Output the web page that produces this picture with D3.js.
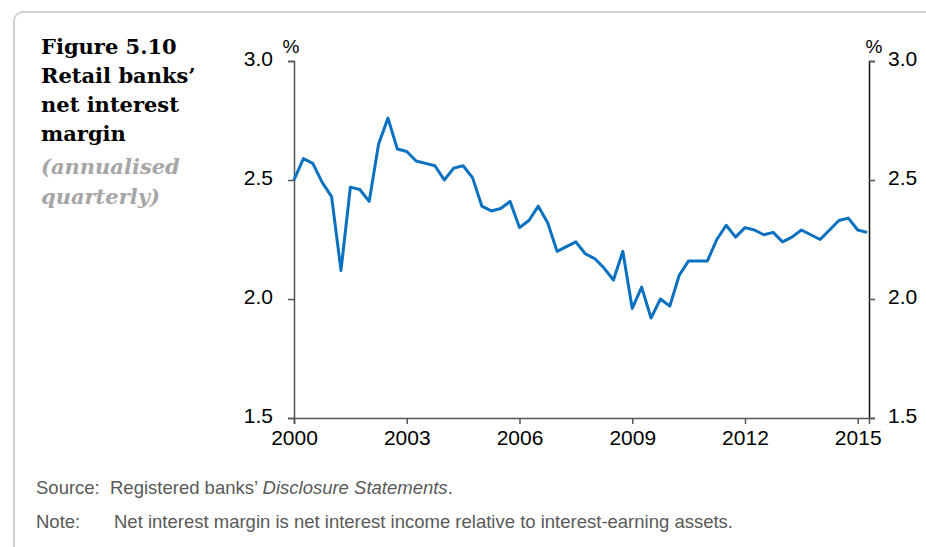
<!DOCTYPE html>
<html>
<head>
<meta charset="utf-8">
<script src="https://cdn.jsdelivr.net/npm/d3@7"></script>
<style>
  body { margin: 0; background: #fff; }
  svg { display: block; }
</style>
</head>
<body>
<svg id="chart" width="926" height="547"></svg>
<script>
// quarterly net interest margin, % (2000 Q1 onward)
var nim = [
  2.50, 2.59, 2.57, 2.49, 2.43, 2.12, 2.47, 2.46, 2.41, 2.65,
  2.76, 2.63, 2.62, 2.58, 2.57, 2.56, 2.50, 2.55, 2.56, 2.51,
  2.39, 2.37, 2.38, 2.41, 2.30, 2.33, 2.39, 2.32, 2.20, 2.22,
  2.24, 2.19, 2.17, 2.13, 2.08, 2.20, 1.96, 2.05, 1.92, 2.00,
  1.97, 2.10, 2.16, 2.16, 2.16, 2.25, 2.31, 2.26, 2.30, 2.29,
  2.27, 2.28, 2.24, 2.26, 2.29, 2.27, 2.25, 2.29, 2.33, 2.34,
  2.29, 2.28
];
var startYear = 2000;
var xTicks = [2000, 2003, 2006, 2009, 2012, 2015];
var yTicks = [1.5, 2.0, 2.5, 3.0];
var titleLines = ["Figure 5.10", "Retail banks\u2019", "net interest", "margin"];
var subLines = ["(annualised", "quarterly)"];

var svg = d3.select("#chart");

// panel border
svg.append("rect")
  .attr("x", 14).attr("y", 12)
  .attr("width", 960).attr("height", 600)
  .attr("rx", 9)
  .attr("fill", "none")
  .attr("stroke", "#d0d0d0")
  .attr("stroke-width", 2);

// title block
var title = svg.append("g").attr("font-family", "DejaVu Serif, serif");
title.selectAll("text.t")
  .data(titleLines).enter()
  .append("text")
  .attr("class", "t")
  .attr("x", 41)
  .attr("y", function (d, i) { return 54 + i * 29; })
  .attr("font-size", 21)
  .attr("font-weight", "bold")
  .attr("fill", "#000")
  .text(function (d) { return d; });
title.selectAll("text.s")
  .data(subLines).enter()
  .append("text")
  .attr("class", "s")
  .attr("x", 41)
  .attr("y", function (d, i) { return 174 + i * 30; })
  .attr("font-size", 21)
  .attr("font-weight", "bold")
  .attr("font-style", "italic")
  .attr("fill", "#a6a6a6")
  .text(function (d) { return d; });

// scales
var x = d3.scaleLinear().domain([2000, 2015.3]).range([294, 869]);
var y = d3.scaleLinear().domain([1.5, 3.0]).range([418, 61]);

var fmt = d3.format(".1f");
var axisFont = "Liberation Sans, Arial, sans-serif";

var leftAxis = svg.append("g")
  .attr("transform", "translate(294,0)")
  .call(d3.axisLeft(y).tickValues(yTicks).tickFormat(fmt).tickSize(6).tickPadding(15));
var rightAxis = svg.append("g")
  .attr("transform", "translate(869,0)")
  .call(d3.axisRight(y).tickValues(yTicks).tickFormat(fmt).tickSize(6).tickPadding(13));
var bottomAxis = svg.append("g")
  .attr("transform", "translate(0,418)")
  .call(d3.axisBottom(x).tickValues(xTicks).tickFormat(d3.format("d")).tickSize(6).tickPadding(6));

[leftAxis, rightAxis, bottomAxis].forEach(function (a) {
  a.select(".domain").attr("stroke", "#555").attr("stroke-width", 1.5);
  a.selectAll(".tick line").attr("stroke", "#555").attr("stroke-width", 1.5);
  a.selectAll(".tick text")
    .attr("font-family", axisFont)
    .attr("font-size", 21)
    .attr("fill", "#000");
});
rightAxis.select(".domain").attr("stroke", "#111");
leftAxis.selectAll(".tick text").attr("dy", "0.2em");
rightAxis.selectAll(".tick text").attr("dy", "0.2em");
bottomAxis.selectAll(".tick text").attr("dy", "0.72em");

// % units
svg.append("text").attr("x", 291).attr("y", 53)
  .attr("text-anchor", "middle")
  .attr("font-family", axisFont).attr("font-size", 19)
  .text("%");
svg.append("text").attr("x", 874).attr("y", 53)
  .attr("text-anchor", "middle")
  .attr("font-family", axisFont).attr("font-size", 19)
  .text("%");

// series line
var line = d3.line()
  .x(function (d, i) { return x(startYear + i / 4); })
  .y(function (d) { return y(d); });

svg.append("path")
  .datum(nim)
  .attr("d", line)
  .attr("fill", "none")
  .attr("stroke", "#0a70c0")
  .attr("stroke-width", 3)
  .attr("stroke-linejoin", "round");

// footnotes
var notes = svg.append("g")
  .attr("font-family", axisFont)
  .attr("font-size", 18.5)
  .attr("fill", "#595959");
notes.append("text").attr("x", 36).attr("y", 494).text("Source:");
var src = notes.append("text").attr("x", 110).attr("y", 494);
src.append("tspan").text("Registered banks\u2019 ");
src.append("tspan").attr("font-style", "italic").text("Disclosure Statements");
src.append("tspan").text(".");
notes.append("text").attr("x", 36).attr("y", 528).text("Note:");
notes.append("text").attr("x", 114).attr("y", 528)
  .text("Net interest margin is net interest income relative to interest-earning assets.");
</script>
</body>
</html>
